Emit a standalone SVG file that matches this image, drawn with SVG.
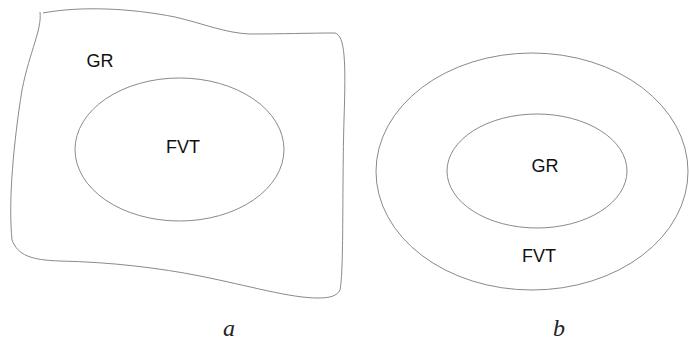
<svg xmlns="http://www.w3.org/2000/svg" width="689" height="342" viewBox="0 0 689 342">
<style>
.ln{fill:none;stroke:#8a8a8a;stroke-width:1}
.t{font-family:"Liberation Sans",Arial,sans-serif;font-size:18px;fill:#111;text-anchor:middle}
.c{font-family:"Liberation Serif","Times New Roman",serif;font-style:italic;font-size:24px;fill:#222;text-anchor:middle}
</style>
<rect width="689" height="342" fill="#fff"/>
<g id="figA">
<g id="gr-region">
<path class="ln" d="M43,13 C80,6 130,8 175,17 C205,24 225,33 250,34 C280,34 310,33 335,33 C345,36 346,60 344,120 C342,190 344,270 340,290 C337,296 330,298 318,298 C290,298 250,286 200,276 C160,268 110,262 60,261 C30,260 18,255 12,240 C8,200 14,140 22,90 C30,50 42,30 40,12"/>
<text class="t" x="100" y="67">GR</text>
</g>
<g id="fvt-a">
<ellipse class="ln" cx="179.5" cy="149.5" rx="104.5" ry="71.5"/>
<text class="t" x="183" y="153">FVT</text>
</g>
<text class="c" x="229" y="336">a</text>
</g>
<g id="figB">
<g id="fvt-b">
<ellipse class="ln" cx="532" cy="171.5" rx="156" ry="118.5"/>
<text class="t" x="539" y="262">FVT</text>
</g>
<g id="gr-b">
<ellipse class="ln" cx="537" cy="171" rx="90" ry="57"/>
<text class="t" x="545" y="172">GR</text>
</g>
<text class="c" x="559" y="336">b</text>
</g>
<g id="connectors"/>
</svg>
